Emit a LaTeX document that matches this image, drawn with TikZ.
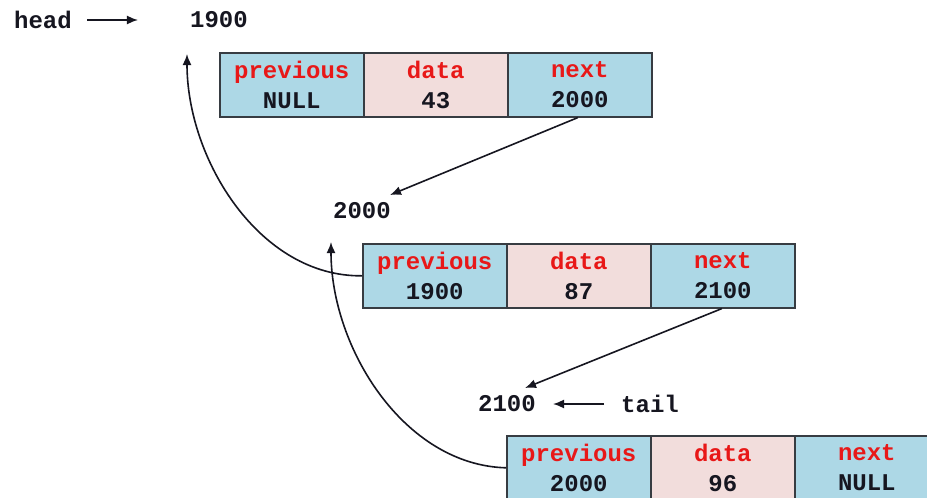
\documentclass[tikz,border=0pt]{standalone}
\usepackage{fontspec}
\setmainfont{Liberation Mono}
\usetikzlibrary{arrows.meta}
\definecolor{cellblue}{RGB}{173,216,230}
\definecolor{cellpink}{RGB}{242,221,220}
\definecolor{fred}{RGB}{232,24,24}
\definecolor{ink}{RGB}{22,22,32}
\definecolor{edge}{RGB}{55,60,66}
\tikzset{
  cell/.style={draw=edge, line width=1.6pt, minimum width=144pt, minimum height=64pt,
    inner sep=0pt, anchor=north west, align=center, text=ink,
    font=\bfseries\fontsize{24}{30}\selectfont},
  bluecell/.style={cell, fill=cellblue},
  pinkcell/.style={cell, fill=cellpink},
  lbl/.style={inner sep=0pt, text=ink, font=\bfseries\fontsize{24}{30}\selectfont},
  arr/.style={-{Latex[length=11pt,width=9pt]}, line width=1.6pt, draw=ink}
}
\newcommand{\fld}[2]{\textcolor{fred}{#1}\\#2}
\begin{document}
\begin{tikzpicture}[x=1pt,y=-1pt]
\useasboundingbox (0,0) rectangle (927,498);
\clip (0,0) rectangle (927,498);
\fill[white] (0,0) rectangle (927,498);
% box 1
\node[bluecell] (p1) at (219,52) {\fld{previous}{NULL}};
\node[pinkcell] (d1) at (363,52) {\fld{data}{43}};
\node[bluecell] (n1) at (507,52) {\fld{next}{2000}};
% box 2
\node[bluecell] (p2) at (362,243) {\fld{previous}{1900}};
\node[pinkcell] (d2) at (506,243) {\fld{data}{87}};
\node[bluecell] (n2) at (650,243) {\fld{next}{2100}};
% box 3
\node[bluecell] (p3) at (506,435) {\fld{previous}{2000}};
\node[pinkcell] (d3) at (650,435) {\fld{data}{96}};
\node[bluecell] (n3) at (794,435) {\fld{next}{NULL}};
% labels
\node[lbl] (head) at (43,20) {head};
\node[lbl] (a1900) at (219,20) {1900};
\node[lbl] (a2000) at (362,211) {2000};
\node[lbl] (a2100) at (507,404) {2100};
\node[lbl] (tail) at (650,404) {tail};
% free ends
\coordinate (t1) at (390,195);
\coordinate (t2) at (525,388);
\coordinate (c1) at (187,54);
\coordinate (c2) at (331,242);
% connectors
\draw[arr, shorten <=15pt, shorten >=52pt] (head.east) -- (a1900.west);
\draw[arr, shorten <=17pt, shorten >=17pt] (tail.west) -- (a2100.east);
\draw[arr] ([xshift=-2pt]n1.south) -- (t1);
\draw[arr] ([xshift=-1pt]n2.south) -- (t2);
\draw[arr] (p2.west) .. controls (260,277) and (187,160) .. (c1);
\draw[arr] (p3.west) .. controls (404,465) and (331,348) .. (c2);
\end{tikzpicture}
\end{document}
